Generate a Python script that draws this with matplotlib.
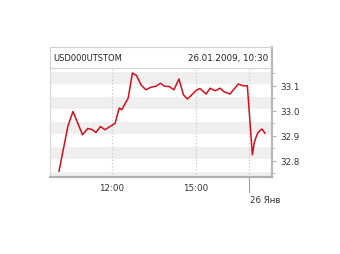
import matplotlib
matplotlib.use("Agg")
import matplotlib.pyplot as plt

# Data (x: trading-hour position, y: rate)
hours = [10.11, 10.43, 10.61, 10.95, 11.14, 11.29, 11.43, 11.59, 11.75, 11.93,
         12.11, 12.26, 12.35, 12.58, 12.73, 12.875, 13.04, 13.21, 13.39, 13.57,
         13.73, 13.875, 14.04, 14.21, 14.39, 14.55, 14.69, 14.85, 15.02, 15.14,
         15.36, 15.5, 15.68, 15.86, 16.0, 16.21, 16.51, 16.67, 16.83, 16.96,
         17.01, 17.08, 17.17, 17.22, 17.35, 17.46]
rates = [32.758, 32.939, 32.997, 32.904, 32.929, 32.925, 32.913, 32.937, 32.924, 32.937,
         32.949, 33.011, 33.004, 33.051, 33.151, 33.141, 33.103, 33.084, 33.094, 33.098,
         33.110, 33.098, 33.097, 33.084, 33.127, 33.064, 33.047, 33.064, 33.083, 33.089,
         33.067, 33.090, 33.080, 33.090, 33.076, 33.067, 33.107, 33.100, 33.100, 32.900,
         32.824, 32.874, 32.903, 32.914, 32.927, 32.910]
x_ticks = [12.0, 15.0]
x_tick_labels = ["12:00", "15:00"]
day_break = 16.89
day_label = "26 Янв"
y_ticks = [32.8, 32.9, 33.0, 33.1]
y_tick_labels = ["32.8", "32.9", "33.0", "33.1"]
ticker = "USD000UTSTOM"
stamp = "26.01.2009, 10:30"

W, H = 340, 255
fig = plt.figure(figsize=(W / 100, H / 100), dpi=100)
fig.patch.set_facecolor("white")

# plot area
x0, x1, ytop, ybot = 50, 272, 69, 178
ax = fig.add_axes([x0 / W, 1 - ybot / H, (x1 - x0) / W, (ybot - ytop) / H])
xmin, xmax = 9.79, 17.71
ymin, ymax = 32.735, 33.171
ax.set_xlim(xmin, xmax)
ax.set_ylim(ymin, ymax)

# stripes
for v in [32.705, 32.805, 32.905, 33.005, 33.105]:
    ax.axhspan(v, v + 0.05, color="#efefef", lw=0, zorder=0)

# vertical dotted gridlines
for t in x_ticks + [day_break]:
    ax.axvline(t, color="#c0c0c0", lw=0.8, ls=(0, (1, 2)), zorder=1)

ax.plot(hours, rates, color="#d0101e", lw=1.1, zorder=3, solid_joinstyle="round")

for s in ["top", "left"]:
    ax.spines[s].set_color("#d8d8d8")
    ax.spines[s].set_linewidth(0.8)
ax.spines["right"].set_color("#b8b8b8")
ax.spines["right"].set_linewidth(1.6)
ax.spines["bottom"].set_color("#b0b0b0")
ax.spines["bottom"].set_linewidth(1.6)

ax.yaxis.tick_right()
ax.set_yticks(y_ticks)
ax.set_yticklabels(y_tick_labels, fontsize=6.3, color="#333333")
ax.set_yticks([v + 0.05 for v in [32.7] + y_ticks], minor=True)
ax.tick_params(axis="y", which="major", length=3, color="#b0b0b0", pad=3)
ax.tick_params(axis="y", which="minor", length=2, color="#b0b0b0")
ax.set_xticks(x_ticks)
ax.set_xticklabels(x_tick_labels, fontsize=6.3, color="#333333")
ax.tick_params(axis="x", length=0, pad=4)

# day-break tick below axis
ax.plot([day_break, day_break], [0, -0.14], transform=ax.get_xaxis_transform(),
        color="#a0a0a0", lw=0.8, clip_on=False)
ax.text(day_break + 0.05, -0.165, day_label, transform=ax.get_xaxis_transform(),
        fontsize=6.3, color="#333333", ha="left", va="top")

# header
hdr = fig.add_axes([x0 / W, 1 - ytop / H, (x1 - x0) / W, (ytop - 48) / H])
hdr.set_xticks([])
hdr.set_yticks([])
hdr.set_facecolor("white")
for s in ["top", "left", "bottom"]:
    hdr.spines[s].set_color("#d0d0d0")
    hdr.spines[s].set_linewidth(0.8)
hdr.spines["right"].set_color("#b8b8b8")
hdr.spines["right"].set_linewidth(1.6)
hdr.text(0.015, 0.5, ticker, fontsize=6.0, color="#222222", ha="left", va="center",
         transform=hdr.transAxes)
hdr.text(0.985, 0.5, stamp, fontsize=6.3, color="#222222", ha="right", va="center",
         transform=hdr.transAxes)

fig.savefig("out.png", dpi=100, facecolor="white")
